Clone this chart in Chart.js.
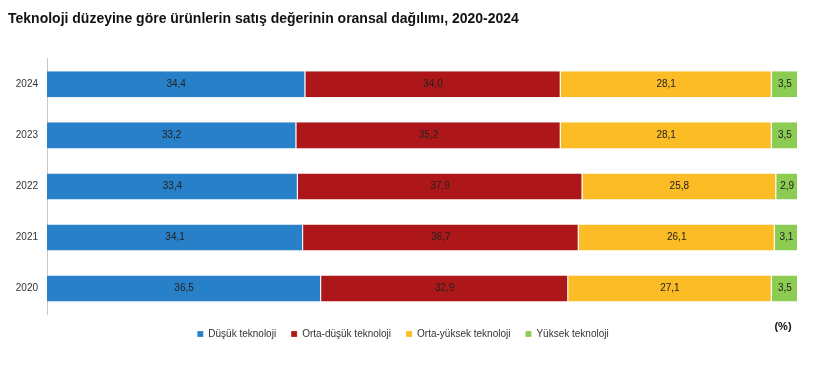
<!DOCTYPE html>
<html>
<head>
<meta charset="utf-8">
<script src="https://cdn.jsdelivr.net/npm/chart.js@4.4.0/dist/chart.umd.min.js"></script>
<style>
  html, body { margin: 0; padding: 0; background: #fff; }
  #wrap { width: 820px; height: 370px; }
</style>
</head>
<body>
<div id="wrap"><canvas id="chart"></canvas></div>
<script>
const years = ['2024', '2023', '2022', '2021', '2020'];
const dusuk = [34.4, 33.2, 33.4, 34.1, 36.5];
const ortaDusuk = [34.0, 35.2, 37.9, 36.7, 32.9];
const ortaYuksek = [28.1, 28.1, 25.8, 26.1, 27.1];
const yuksek = [3.5, 3.5, 2.9, 3.1, 3.5];

const FONT = '"Liberation Sans", Arial, sans-serif';

// değer etiketleri + (%) yazısı
const valueLabels = {
    id: 'valueLabels',
    afterDatasetsDraw(chart) {
        const ctx = chart.ctx;
        ctx.save();
        ctx.font = '10px ' + FONT;
        ctx.textAlign = 'center';
        ctx.textBaseline = 'middle';
        ctx.fillStyle = '#222';
        chart.data.datasets.forEach((ds, i) => {
            const meta = chart.getDatasetMeta(i);
            meta.data.forEach((bar, j) => {
                const v = ds.data[j];
                ctx.fillText(v.toFixed(1).replace('.', ','), (bar.x + bar.base) / 2, bar.y);
            });
        });
        const area = chart.chartArea;
        ctx.font = 'bold 11px ' + FONT;
        ctx.fillStyle = '#111';
        ctx.fillText('(%)', area.right - 15, area.bottom + 13);
        ctx.restore();
    }
};

const makeSet = (label, data, color) => ({
    label: label,
    data: data,
    backgroundColor: color,
    borderColor: 'rgba(255,255,255,0.7)',
    borderWidth: { top: 0, bottom: 0, left: 0, right: 1 },
    borderSkipped: false,
    barPercentage: 0.51,
    categoryPercentage: 1
});

new Chart(document.getElementById('chart'), {
    type: 'bar',
    data: {
        labels: years,
        datasets: [
            makeSet('Düşük teknoloji', dusuk, '#2880c8'),
            makeSet('Orta-düşük teknoloji', ortaDusuk, '#ad1719'),
            makeSet('Orta-yüksek teknoloji', ortaYuksek, '#fbbc25'),
            makeSet('Yüksek teknoloji', yuksek, '#8dcc53')
        ]
    },
    options: {
        indexAxis: 'y',
        responsive: true,
        maintainAspectRatio: false,
        animation: false,
        layout: { padding: { left: 8, right: 22, top: 0, bottom: 21 } },
        scales: {
            x: {
                stacked: true,
                min: 0,
                max: 100,
                display: false
            },
            y: {
                stacked: true,
                grid: { display: false, drawTicks: false },
                border: { display: true, color: '#c8c8c8', width: 1 },
                ticks: { color: '#333', padding: 9, font: { family: FONT, size: 10 } },
                afterFit: (scale) => { scale.width = 39; }
            }
        },
        plugins: {
            title: {
                display: true,
                text: 'Teknoloji düzeyine göre ürünlerin satış değerinin oransal dağılımı, 2020-2024',
                align: 'start',
                color: '#111',
                font: { family: FONT, size: 14, weight: 'bold' },
                padding: { top: 11, bottom: 31 }
            },
            legend: {
                position: 'bottom',
                labels: {
                    color: '#333',
                    font: { family: FONT, size: 10 },
                    boxWidth: 6,
                    boxHeight: 6,
                    padding: 15
                }
            },
            tooltip: { enabled: false }
        }
    },
    plugins: [valueLabels]
});
</script>
</body>
</html>
